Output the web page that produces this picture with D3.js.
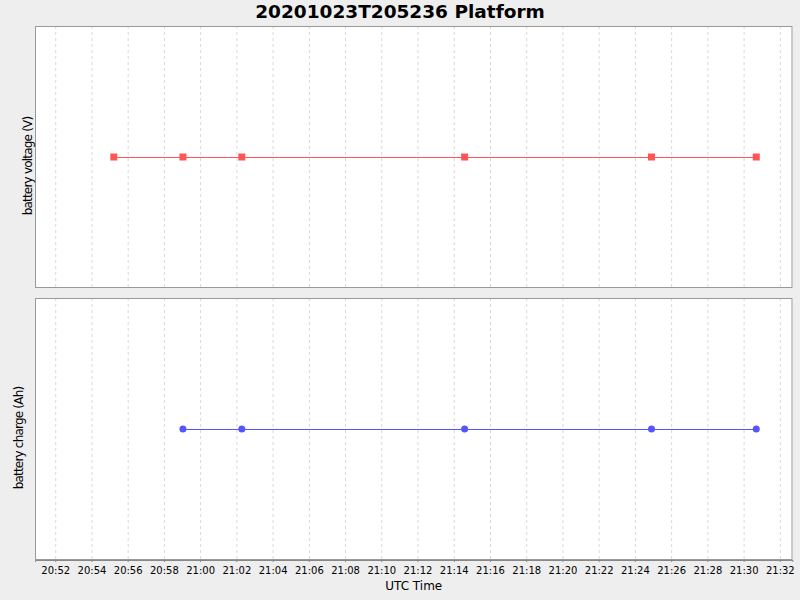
<!DOCTYPE html>
<html lang="en">
<head>
<meta charset="utf-8">
<title>Platform</title>
<script src="https://d3js.org/d3.v7.min.js"></script>
<style>
body { margin: 0; background: #eeeeee; }
text { font-family: "DejaVu Sans", sans-serif; fill: #000; }
.grid line { stroke: #d8d8d8; stroke-dasharray: 3,3; }
.tick text { font-size: 10px; }
</style>
</head>
<body>
<div id="chart"></div>
<script>
// data (UTC times, values constant)
var titleText = "20201023T205236 Platform";
var voltageTimes = ["20:55:14", "20:59:03", "21:02:18", "21:14:36", "21:24:55", "21:30:42"];
var voltageValues = [15.0, 15.0, 15.0, 15.0, 15.0, 15.0];
var chargeTimes = ["20:59:03", "21:02:18", "21:14:36", "21:24:55", "21:30:42"];
var chargeValues = [50, 50, 50, 50, 50];
var timeDomain = ["20:50:53", "21:32:42"];

var w = 800, h = 600;
var left = 35, right = 792.5;
var panels = [
  { top: 26, bottom: 288, labelX: 31.5, label: "battery voltage (V)", times: voltageTimes, values: voltageValues, color: "#ff5555", shape: "square" },
  { top: 298, bottom: 560, labelX: 22.5, label: "battery charge (Ah)", times: chargeTimes, values: chargeValues, color: "#5555ff", shape: "circle" }
];

var parseTime = d3.utcParse("%Y-%m-%d %H:%M:%S");
function t(s) { return parseTime("2020-10-23 " + s); }

var svg = d3.select("#chart").append("svg")
  .attr("width", w).attr("height", h);

svg.append("rect").attr("width", w).attr("height", h).attr("fill", "#eeeeee");

var x = d3.scaleUtc()
  .domain(timeDomain.map(t))
  .range([left, right]);

var ticks = x.ticks(d3.utcMinute.every(2));

svg.append("text")
  .attr("x", 400).attr("y", 18)
  .attr("text-anchor", "middle")
  .style("font-size", "18.5px").style("font-weight", "bold")
  .text(titleText);

panels.forEach(function(p) {
  var y = d3.scaleLinear()
    .domain([d3.min(p.values) - 1, d3.max(p.values) + 1])
    .range([p.bottom, p.top]);

  var g = svg.append("g");
  g.append("rect")
    .attr("x", left).attr("y", p.top)
    .attr("width", right - left).attr("height", p.bottom - p.top)
    .attr("fill", "#fff");

  g.append("g").attr("class", "grid")
    .selectAll("line").data(ticks).enter().append("line")
    .attr("x1", function(d) { return x(d) + 0.5; })
    .attr("x2", function(d) { return x(d) + 0.5; })
    .attr("y1", p.top).attr("y2", p.bottom);

  g.append("rect")
    .attr("x", left + 0.5).attr("y", p.top + 0.5)
    .attr("width", right - left - 1).attr("height", p.bottom - p.top - 1)
    .attr("fill", "none").attr("stroke", "#999");

  var pts = p.times.map(function(s, i) { return [x(t(s)), y(p.values[i])]; });

  g.append("path")
    .attr("d", d3.line()(pts))
    .attr("fill", "none").attr("stroke", p.color).attr("stroke-width", 1)
    .attr("shape-rendering", "crispEdges");

  if (p.shape === "square") {
    g.selectAll(".pt").data(pts).enter().append("rect")
      .attr("x", function(d) { return d[0] - 3.5; })
      .attr("y", function(d) { return d[1] - 3.5; })
      .attr("width", 7).attr("height", 7)
      .attr("fill", p.color);
  } else {
    g.selectAll(".pt").data(pts).enter().append("circle")
      .attr("cx", function(d) { return d[0]; })
      .attr("cy", function(d) { return d[1]; })
      .attr("r", 3.5)
      .attr("fill", p.color);
  }

  var cy = (p.top + p.bottom) / 2;
  svg.append("text")
    .attr("transform", "translate(" + p.labelX + "," + (cy + 9) + ") rotate(-90)")
    .attr("text-anchor", "middle")
    .style("font-size", "12px")
    .style("letter-spacing", "-0.8px")
    .text(p.label);
});

var xAxis = svg.append("g")
  .attr("transform", "translate(0,560)")
  .call(d3.axisBottom(x).tickValues(ticks).tickFormat(d3.utcFormat("%H:%M")).tickSize(2).tickPadding(5));
xAxis.select(".domain").attr("stroke", "#888");
xAxis.selectAll(".tick line").attr("stroke", "#888");
xAxis.selectAll(".tick text").attr("fill", "#000");

svg.append("text")
  .attr("x", (left + right) / 2).attr("y", 590)
  .attr("text-anchor", "middle")
  .style("font-size", "12px")
  .text("UTC Time");
</script>
</body>
</html>
